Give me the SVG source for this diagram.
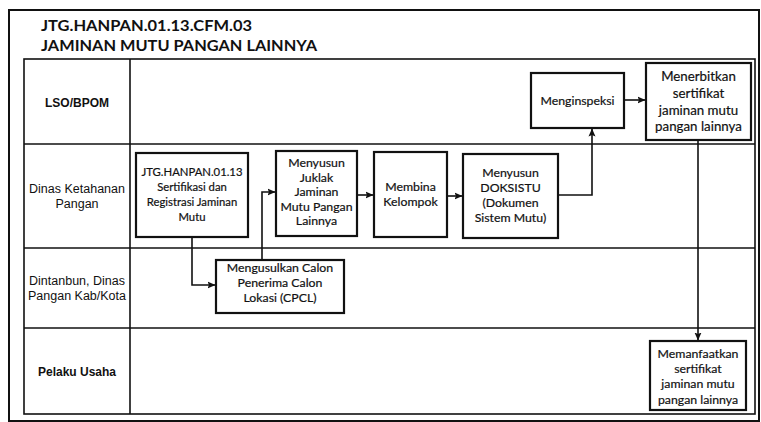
<svg xmlns="http://www.w3.org/2000/svg" width="761" height="422" viewBox="0 0 761 422">
<style>
.frame{fill:none;stroke:#111;stroke-width:2}
.grid{fill:none;stroke:#111;stroke-width:1.6}
.box{fill:#fff;stroke:#111;stroke-width:2.2}
.conn{fill:none;stroke:#111;stroke-width:1.6}
.title{font-family:Lato,"Liberation Sans",sans-serif;font-weight:bold;font-size:16px;fill:#111}
.lane{font-family:"Liberation Sans",Arial,sans-serif;font-size:12.5px;fill:#111;text-anchor:middle}
.laneb{font-family:"Liberation Sans",Arial,sans-serif;font-size:12px;font-weight:bold;fill:#111;text-anchor:middle}
.t{font-family:Lato,"Open Sans",sans-serif;font-size:12.3px;fill:#111;stroke:#111;stroke-width:0.2;text-anchor:middle}
.ts{font-family:Lato,"Open Sans",sans-serif;font-size:11.3px;fill:#111;stroke:#111;stroke-width:0.2;text-anchor:middle}
.tl{font-family:Lato,"Open Sans",sans-serif;font-size:13.3px;fill:#111;stroke:#111;stroke-width:0.2;text-anchor:middle}
</style>
<defs>
<marker id="arr" markerWidth="8" markerHeight="8" refX="7.5" refY="4" orient="auto" markerUnits="userSpaceOnUse">
<path d="M0,0.5 L8,4 L0,7.5 L1.5,4 Z" fill="#111"/>
</marker>
</defs>
<rect width="761" height="422" fill="#fff"/>
<g id="frame">
<rect class="frame" x="9" y="10" width="750" height="411"/>
<rect class="grid" x="24" y="59" width="731" height="355"/>
<line class="grid" x1="130" y1="59" x2="130" y2="414"/>
<line class="grid" x1="24" y1="144" x2="755" y2="144"/>
<line class="grid" x1="24" y1="248" x2="755" y2="248"/>
<line class="grid" x1="24" y1="328" x2="755" y2="328"/>
</g>
<g id="title">
<text class="title" x="41" y="31" textLength="211" lengthAdjust="spacingAndGlyphs">JTG.HANPAN.01.13.CFM.03</text>
<text class="title" x="41" y="51" textLength="276" lengthAdjust="spacingAndGlyphs">JAMINAN MUTU PANGAN LAINNYA</text>
</g>
<g id="lanes">
<text class="laneb" x="77" y="107">LSO/BPOM</text>
<text class="lane" x="77" y="193">Dinas Ketahanan</text>
<text class="lane" x="77" y="208">Pangan</text>
<text class="lane" x="77" y="285">Dintanbun, Dinas</text>
<text class="lane" x="77" y="300">Pangan Kab/Kota</text>
<text class="laneb" x="77" y="376">Pelaku Usaha</text>
</g>
<g id="connectors">
<path class="conn" d="M192,237 V285 H215" marker-end="url(#arr)"/>
<path class="conn" d="M262,260 V192 H275" marker-end="url(#arr)"/>
<path class="conn" d="M357,195 H373" marker-end="url(#arr)"/>
<path class="conn" d="M447,196 H462" marker-end="url(#arr)"/>
<path class="conn" d="M558,195 H592 V129" marker-end="url(#arr)"/>
<path class="conn" d="M624,100 H645" marker-end="url(#arr)"/>
<path class="conn" d="M698,140 V340" marker-end="url(#arr)"/>
</g>
<g id="n1">
<rect class="box" x="136" y="153" width="112" height="84"/>
<text class="ts" x="192" y="176">JTG.HANPAN.01.13</text>
<text class="ts" x="192" y="191">Sertifikasi dan</text>
<text class="ts" x="192" y="206">Registrasi Jaminan</text>
<text class="ts" x="192" y="221">Mutu</text>
</g>
<g id="n2">
<rect class="box" x="276" y="151" width="81" height="85"/>
<text class="t" x="316.5" y="167">Menyusun</text>
<text class="t" x="316.5" y="181.5">Juklak</text>
<text class="t" x="316.5" y="196">Jaminan</text>
<text class="t" x="316.5" y="210.5">Mutu Pangan</text>
<text class="t" x="316.5" y="225">Lainnya</text>
</g>
<g id="n3">
<rect class="box" x="216" y="260" width="128" height="53"/>
<text class="t" x="280" y="272">Mengusulkan Calon</text>
<text class="t" x="280" y="287">Penerima Calon</text>
<text class="t" x="280" y="302">Lokasi (CPCL)</text>
</g>
<g id="n4">
<rect class="box" x="374" y="152" width="73" height="85"/>
<text class="t" x="410.5" y="191">Membina</text>
<text class="t" x="410.5" y="206">Kelompok</text>
</g>
<g id="n5">
<rect class="box" x="463" y="154" width="95" height="84"/>
<text class="t" x="510.5" y="177">Menyusun</text>
<text class="t" x="510.5" y="192">DOKSISTU</text>
<text class="t" x="510.5" y="207">(Dokumen</text>
<text class="t" x="510.5" y="222">Sistem Mutu)</text>
</g>
<g id="n6">
<rect class="box" x="531" y="73" width="93" height="55"/>
<text class="t" x="577.5" y="104.5">Menginspeksi</text>
</g>
<g id="n7">
<rect class="box" x="646" y="63" width="105" height="77"/>
<text class="tl" x="698.5" y="81">Menerbitkan</text>
<text class="tl" x="698.5" y="98">sertifikat</text>
<text class="tl" x="698.5" y="114.5">jaminan mutu</text>
<text class="tl" x="698.5" y="131">pangan lainnya</text>
</g>
<g id="n8">
<rect class="box" x="650" y="341" width="96" height="69"/>
<text class="t" x="698" y="358">Memanfaatkan</text>
<text class="t" x="698" y="373">sertifikat</text>
<text class="t" x="698" y="388">jaminan mutu</text>
<text class="t" x="698" y="404">pangan lainnya</text>
</g>
</svg>
